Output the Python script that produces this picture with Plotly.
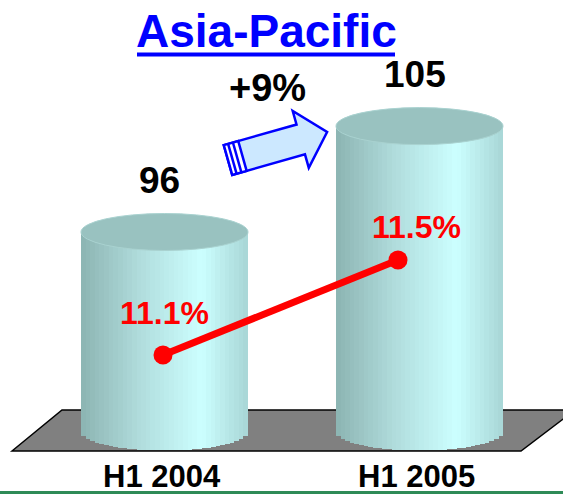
import numpy as np
import plotly.graph_objects as go

# ---------------- data ----------------
categories = ["H1 2004", "H1 2005"]
sales = [96, 105]
margin_pct = [11.1, 11.5]
margin_labels = ["11.1%", "11.5%"]
growth_label = "+9%"
title_text = "Asia-Pacific"

# ---------------- layout constants ----------------
W, H = 563, 494
FONT = "Liberation Sans, Arial, sans-serif"
AXIS_BASE = 79.0
Y_RANGE = [73.73, 115.72]
Y2_RANGE = [10.5147, 12.5947]
X_RANGE = [-0.6451, 1.5627]
X2_RANGE = [-0.6936, 1.7021]
BAR_W = 0.655
N_STRIPES = 36
RY = 18.5 * (Y_RANGE[1] - Y_RANGE[0]) / H  # ellipse half-height in data units


def px(x, y):
    """pixel -> paper coords"""
    return x / W, 1 - y / H


def shade(t):
    stops = [(0.0, (140, 180, 178)), (0.35, (176, 220, 220)),
             (0.72, (204, 255, 255)), (1.0, (168, 214, 214))]
    for (t0, c0), (t1, c1) in zip(stops[:-1], stops[1:]):
        if t0 <= t <= t1:
            f = (t - t0) / (t1 - t0)
            c = [round(a + (b - a) * f) for a, b in zip(c0, c1)]
            return f"rgb({c[0]},{c[1]},{c[2]})"
    return "rgb(168,214,214)"


fig = go.Figure()

# cylinders as striped bars
xs, bases, lens, cols = [], [], [], []
for i, v in enumerate(sales):
    for k in range(N_STRIPES):
        t = (k + 0.5) / N_STRIPES
        u = 2 * t - 1
        b = AXIS_BASE - RY * np.sqrt(max(0.0, 1 - u * u))
        xs.append(i + (t - 0.5) * BAR_W)
        bases.append(b)
        lens.append(v - b)
        cols.append(shade(t))
fig.add_trace(go.Bar(
    x=xs, y=lens, base=bases, width=BAR_W / N_STRIPES * 1.05,
    marker=dict(color=cols, line=dict(width=0)),
    xaxis="x", yaxis="y", showlegend=False, hoverinfo="skip"))

# margin line
fig.add_trace(go.Scatter(
    x=list(range(len(margin_pct))), y=margin_pct, mode="lines+markers",
    line=dict(color="#ff0000", width=7),
    marker=dict(color="#ff0000", size=19),
    xaxis="x2", yaxis="y2", showlegend=False, hoverinfo="skip"))

shapes = []
# floor
pts = [px(12, 451), px(62, 410), px(575, 410), px(521, 451)]
path = "M " + " L ".join(f"{a:.5f},{b:.5f}" for a, b in pts) + " Z"
shapes.append(dict(type="path", xref="paper", yref="paper", path=path,
                   fillcolor="#808080", line=dict(color="#000000", width=1.5),
                   layer="below"))
# cylinder tops
for i, v in enumerate(sales):
    shapes.append(dict(type="circle", xref="x", yref="y",
                       x0=i - BAR_W / 2, x1=i + BAR_W / 2, y0=v - RY, y1=v + RY,
                       fillcolor="#99c2c0", line=dict(color="#a9d2d0", width=1),
                       layer="above"))

# arrow
T = np.array([228.0, 160.0])
d = np.array([99.0, -28.0]); d /= np.linalg.norm(d)
n = np.array([-d[1], d[0]])
if n[1] < 0:
    n = -n


def loc(a, b):
    p = T + a * d + b * n
    return px(p[0], p[1])


def poly(points):
    return "M " + " L ".join(f"{a:.5f},{b:.5f}" for a, b in points) + " Z"


arrow_pts = [loc(0, -15.5), loc(75.6, -15.5), loc(75.6, -29.5), loc(103, 0),
             loc(75.6, 29.5), loc(75.6, 15.5), loc(0, 15.5)]
shapes.append(dict(type="path", xref="paper", yref="paper", path=poly(arrow_pts),
                   fillcolor="#cce8ff", line=dict(color="#0000ff", width=2.5)))
shapes.append(dict(type="path", xref="paper", yref="paper",
                   path=poly([loc(0, -15.5), loc(15, -15.5), loc(15, 15.5), loc(0, 15.5)]),
                   fillcolor="#ffffff", line=dict(color="#0000ff", width=2.5)))
for a in (4.5, 9.5):
    p0, p1 = loc(a, -15.5), loc(a, 15.5)
    shapes.append(dict(type="line", xref="paper", yref="paper",
                       x0=p0[0], y0=p0[1], x1=p1[0], y1=p1[1],
                       line=dict(color="#0000ff", width=2.5)))

# title underline
u0, u1 = px(137, 54.5), px(395, 54.5)
shapes.append(dict(type="line", xref="paper", yref="paper",
                   x0=u0[0], y0=u0[1], x1=u1[0], y1=u1[1],
                   line=dict(color="#0000ff", width=4)))
# green rule at bottom
g0, g1 = px(0, 491), px(W, 494)
shapes.append(dict(type="rect", xref="paper", yref="paper",
                   x0=g0[0], y0=g1[1], x1=g1[0], y1=g0[1],
                   fillcolor="#2e8b57", line=dict(width=0), layer="above"))

annotations = []
tx, ty = px(266, 31)
annotations.append(dict(text=f"<b>{title_text}</b>", xref="paper", yref="paper",
                        x=tx, y=ty, showarrow=False, xanchor="center", yanchor="middle",
                        font=dict(family=FONT, size=46, color="#0000ff")))
gx, gy = px(267, 88)
annotations.append(dict(text=f"<b>{growth_label}</b>", xref="paper", yref="paper",
                        x=gx, y=gy, showarrow=False, xanchor="center", yanchor="middle",
                        font=dict(family=FONT, size=38, color="#000000")))
for i, v in enumerate(sales):
    annotations.append(dict(text=f"<b>{v}</b>", xref="x", yref="y", x=i, y=v,
                            yshift=52, xshift=-5, showarrow=False,
                            xanchor="center", yanchor="middle",
                            font=dict(family=FONT, size=37, color="#000000")))
pct_shift = [(1, 42), (18, 33)]
for i, (p, lab) in enumerate(zip(margin_pct, margin_labels)):
    annotations.append(dict(text=f"<b>{lab}</b>", xref="x2", yref="y2", x=i, y=p,
                            xshift=pct_shift[i][0], yshift=pct_shift[i][1],
                            showarrow=False, xanchor="center", yanchor="middle",
                            font=dict(family=FONT, size=32, color="#ff0000")))
cy = px(0, 476)[1]
for i, c in enumerate(categories):
    annotations.append(dict(text=f"<b>{c}</b>", xref="x", yref="paper", x=i, y=cy,
                            xshift=-3, showarrow=False, xanchor="center", yanchor="middle",
                            font=dict(family=FONT, size=31, color="#000000")))

fig.update_layout(
    width=W, height=H, margin=dict(l=0, r=0, t=0, b=0),
    paper_bgcolor="#ffffff", plot_bgcolor="rgba(0,0,0,0)",
    barmode="overlay", bargap=0, showlegend=False,
    xaxis=dict(range=X_RANGE, visible=False, fixedrange=True),
    yaxis=dict(range=Y_RANGE, visible=False, fixedrange=True),
    xaxis2=dict(range=X2_RANGE, visible=False, overlaying="x", fixedrange=True),
    yaxis2=dict(range=Y2_RANGE, visible=False, overlaying="y", fixedrange=True),
    shapes=shapes, annotations=annotations,
)

fig.write_html("out.html")
